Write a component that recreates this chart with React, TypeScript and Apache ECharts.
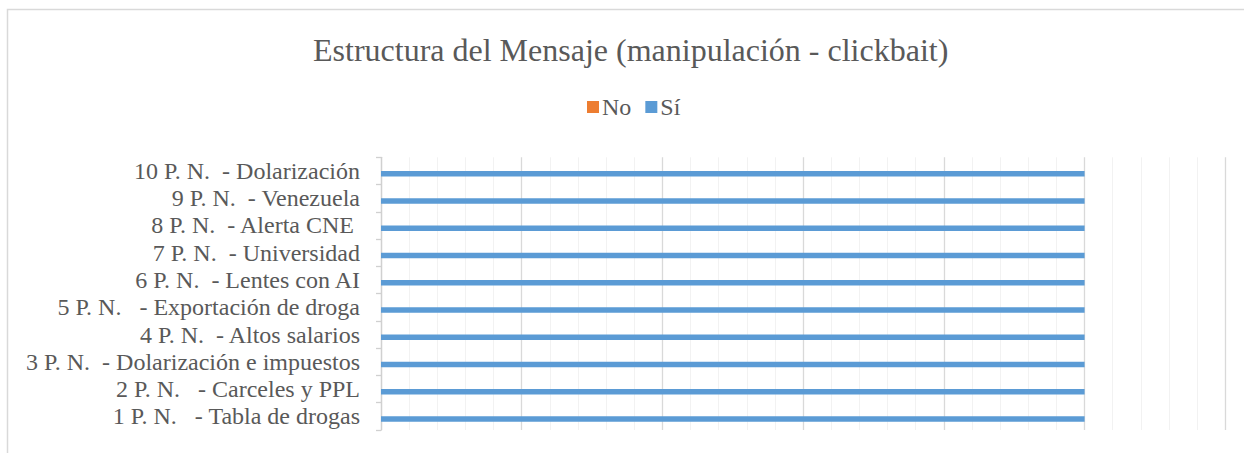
import React, { useEffect, useRef } from "react";
import * as echarts from "echarts";

const categories = [
  "1 P. N.   - Tabla de drogas",
  "2 P. N.   - Carceles y PPL",
  "3 P. N.  - Dolarización e impuestos",
  "4 P. N.  - Altos salarios",
  "5 P. N.   - Exportación de droga",
  "6 P. N.  - Lentes con AI",
  "7 P. N.  - Universidad",
  "8 P. N.  - Alerta CNE ",
  "9 P. N.  - Venezuela",
  "10 P. N.  - Dolarización",
];
const noValues = [0, 0, 0, 0, 0, 0, 0, 0, 0, 0];
const siValues = [5, 5, 5, 5, 5, 5, 5, 5, 5, 5];
const seriesNames = ["No", "Sí"];

const FONT = "Liberation Serif";
const TEXT = "#595959";

export default function App() {
  const ref = useRef<HTMLDivElement>(null);
  useEffect(() => {
    document.body.style.margin = "0";
    const chart = echarts.init(ref.current!, null, { renderer: "svg" });
    chart.setOption({
      animation: false,
      backgroundColor: "#ffffff",
      textStyle: { fontFamily: FONT },
      title: {
        text: "Estructura del Mensaje (manipulación - clickbait)",
        left: 313,
        top: 30,
        padding: 0,
        textStyle: { fontFamily: FONT, fontSize: 32, fontWeight: "normal", color: TEXT, lineHeight: 40 },
      },
      legend: {
        top: 95,
        left: 587,
        padding: 0,
        itemWidth: 12,
        itemHeight: 12,
        itemGap: 14,
        icon: "rect",
        data: seriesNames,
        textStyle: { fontFamily: FONT, fontSize: 24, color: TEXT, padding: [0, 0, 0, -2] },
      },
      graphic: [
        {
          type: "rect",
          shape: { x: 7.5, y: 9.5, width: 1300, height: 500 },
          style: { fill: "none", stroke: "#D9D9D9", lineWidth: 1.5 },
          silent: true,
        },
      ],
      grid: { left: 381, right: 18.7, top: 157.3, bottom: 23, containLabel: false },
      xAxis: {
        type: "value",
        min: 0,
        max: 6,
        interval: 1,
        axisLabel: { show: false },
        axisLine: { show: false },
        axisTick: { show: false },
        splitLine: { show: true, lineStyle: { color: "#D9D9D9", width: 1.3 } },
        minorTick: { show: false, splitNumber: 5 },
        minorSplitLine: { show: true, lineStyle: { color: "#F2F2F2", width: 1 } },
      },
      yAxis: {
        type: "category",
        data: categories,
        axisLine: { show: true, lineStyle: { color: "#D0D0D0", width: 1.3 } },
        axisTick: { show: true, interval: 0, length: 5, lineStyle: { color: "#D0D0D0", width: 1.3 } },
        axisLabel: { interval: 0, fontFamily: FONT, fontSize: 24, color: TEXT, margin: 21 },
        splitLine: { show: false },
      },
      series: [
        {
          name: seriesNames[0],
          type: "bar",
          data: noValues,
          barWidth: 5.5,
          barGap: "0%",
          itemStyle: { color: "#ED7D31" },
        },
        {
          name: seriesNames[1],
          type: "bar",
          data: siValues,
          barWidth: 5.5,
          barGap: "0%",
          itemStyle: { color: "#5B9BD5" },
        },
      ],
    });
    return () => chart.dispose();
  }, []);
  return <div ref={ref} style={{ width: 1244, height: 453 }} />;
}
